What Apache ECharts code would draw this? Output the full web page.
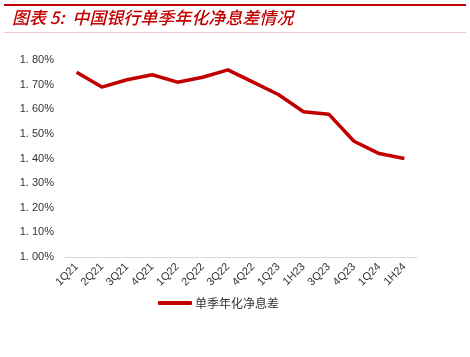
<!DOCTYPE html>
<html><head><meta charset="utf-8">
<script src="https://cdn.jsdelivr.net/npm/echarts@6/dist/echarts.min.js"></script>
<style>html,body{margin:0;padding:0;background:#fff}#c{width:470px;height:357px;position:relative}</style>
</head><body><div id="c"></div>
<script>
var categories = ['1Q21','2Q21','3Q21','4Q21','1Q22','2Q22','3Q22','4Q22','1Q23','1H23','3Q23','4Q23','1Q24','1H24'];
var nimValues = [1.75,1.69,1.72,1.74,1.71,1.73,1.76,1.71,1.66,1.59,1.58,1.47,1.42,1.40];
var seriesName = '单季年化净息差';
var titleText = '图表 5:  中国银行单季年化净息差情况';

var chart = echarts.init(document.getElementById('c'));
chart.setOption({
  animation: false,
  graphic: [
    {type:'rect', shape:{x:4,y:4,width:462,height:2}, style:{fill:'#c00000'}},
    {type:'rect', shape:{x:4,y:32,width:462,height:1}, style:{fill:'#f2c4c4'}},
    {type:'text', left:12, top:9, style:{text:titleText, fill:'#c00000', font:'italic 500 17px "Noto Sans CJK SC"'}}
  ],
  legend: {
    bottom: 43, left: 153,
    itemWidth: 34, itemHeight: 4, itemGap: 10,
    icon: 'roundRect',
    textStyle: {fontSize: 12, color: '#333', fontFamily: '"Noto Sans CJK SC"', padding: [0,0,0,-2]},
    data: [seriesName]
  },
  grid: {left: 64, right: 53, top: 60, bottom: 100},
  xAxis: {
    type: 'category', data: categories, boundaryGap: true,
    axisLine: {lineStyle: {color: '#d9d9d9', width: 1}},
    axisTick: {show: false},
    axisLabel: {rotate: 45, fontSize: 11, color: '#333', fontFamily: 'Arial', margin: 8, interval: 0}
  },
  yAxis: {
    type: 'value', min: 1.0, max: 1.8, interval: 0.1,
    splitLine: {show: false},
    axisLine: {show: false}, axisTick: {show: false},
    axisLabel: {fontSize: 11, color: '#333', fontFamily: 'Arial', margin: 10,
      formatter: function(v){ return v.toFixed(2).replace('.', '. ') + '%'; }}
  },
  series: [{
    name: seriesName, type: 'line', data: nimValues,
    symbol: 'none', lineStyle: {color: '#c00000', width: 3.5}, itemStyle: {color: '#c00000'}
  }]
});
</script></body></html>
